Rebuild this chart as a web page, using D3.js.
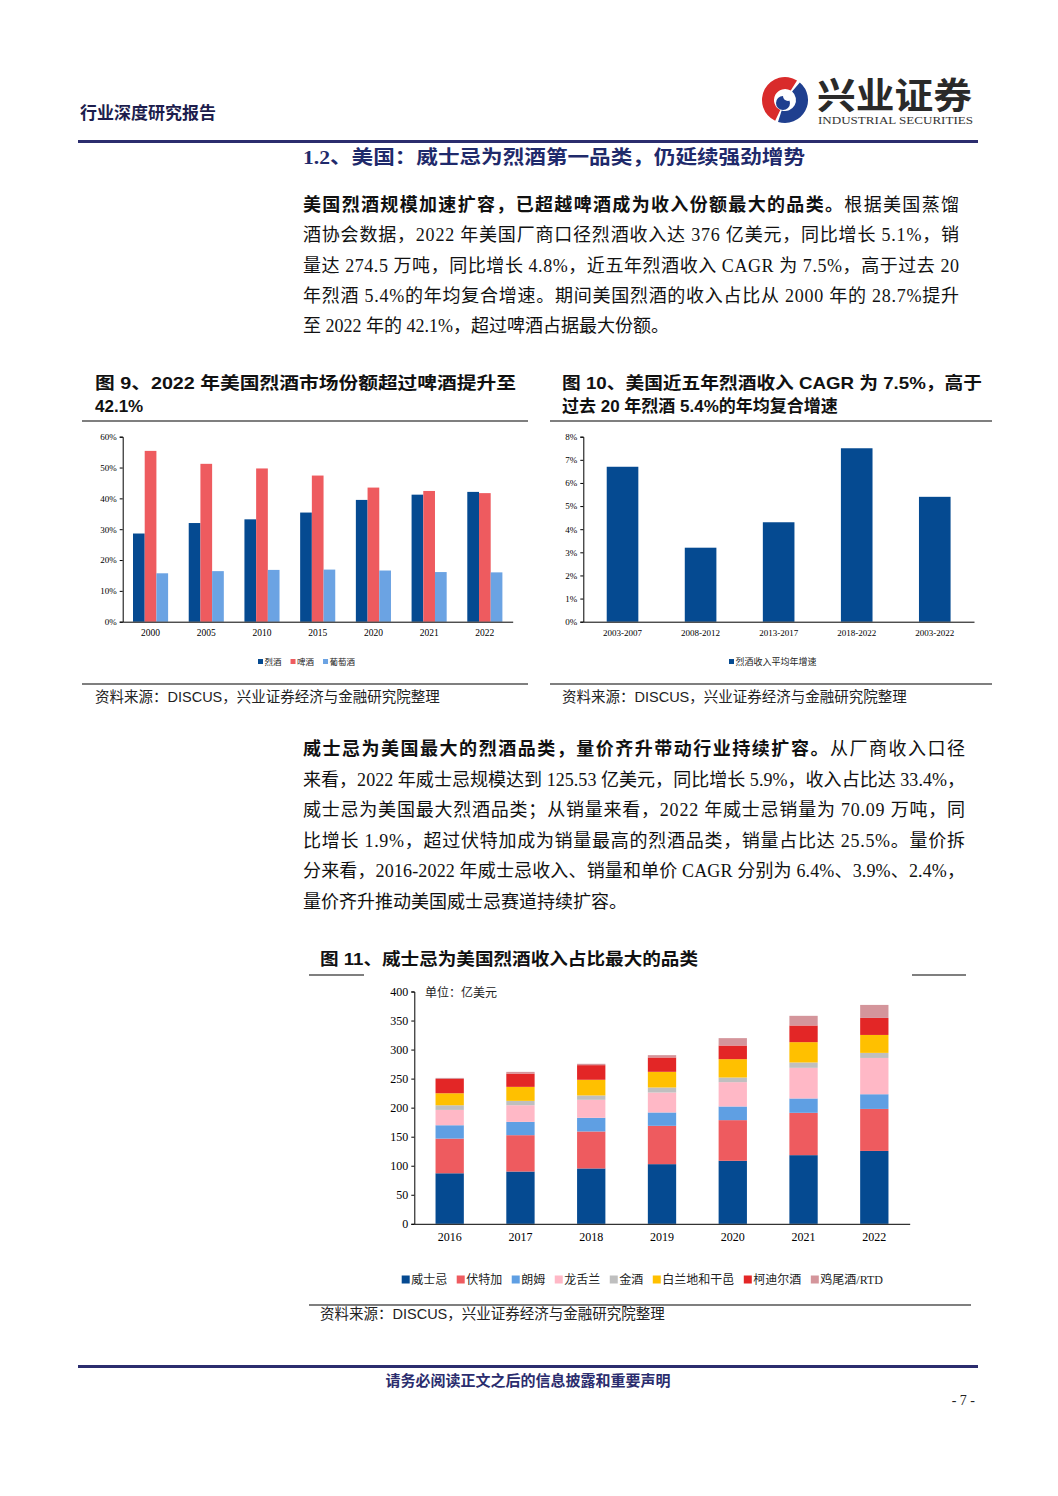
<!DOCTYPE html>
<html>
<head>
<meta charset="utf-8">
<script src="https://cdn.jsdelivr.net/npm/d3@7"></script>
<style>
  html, body { margin: 0; padding: 0; background: #fff; }
  svg { display: block; }
  text { font-family: "Liberation Serif", "Noto Sans CJK SC", serif; }
  .sans { font-family: "Liberation Sans", "Noto Sans CJK SC", sans-serif; }
  .axis path, .axis line { stroke: #000; }
</style>
</head>
<body>
<svg width="1058" height="1496"></svg>
<script>
// figuur 9: marktaandeel per drank
const years9 = ['2000', '2005', '2010', '2015', '2020', '2021', '2022'];
const spirits9 = [28.6, 32.0, 33.2, 35.4, 39.5, 41.2, 42.1];
const beer9 = [55.4, 51.2, 49.7, 47.4, 43.5, 42.4, 41.7];
const wine9 = [15.7, 16.4, 16.8, 16.9, 16.6, 16.1, 16.0];
const series9 = ['烈酒', '啤酒', '葡萄酒'];
const ticks9 = [0, 10, 20, 30, 40, 50, 60];

// figuur 10: gemiddelde groei
const periods10 = ['2003-2007', '2008-2012', '2013-2017', '2018-2022', '2003-2022'];
const cagr10 = [6.7, 3.2, 4.3, 7.5, 5.4];
const ticks10 = [0, 1, 2, 3, 4, 5, 6, 7, 8];

// figuur 11: omzet per categorie (亿美元)
const years11 = ['2016', '2017', '2018', '2019', '2020', '2021', '2022'];
const categories11 = ['威士忌', '伏特加', '朗姆', '龙舌兰', '金酒', '白兰地和干邑', '柯迪尔酒', '鸡尾酒/RTD'];
const whisky = [87.0, 90.0, 95.3, 102.7, 108.5, 118.2, 125.5];
const vodka = [59.7, 62.6, 63.7, 66.0, 70.0, 72.9, 72.3];
const rum = [23.0, 22.9, 23.5, 23.0, 23.5, 24.7, 25.3];
const tequila = [26.4, 28.7, 31.0, 34.4, 41.9, 52.8, 62.5];
const gin = [8.0, 7.5, 7.5, 8.6, 8.0, 9.2, 8.7];
const brandy = [20.7, 24.1, 27.0, 27.0, 31.6, 35.0, 30.9];
const cordials = [24.6, 22.9, 25.2, 24.7, 23.5, 28.7, 29.3];
const rtd = [1.8, 2.9, 2.3, 4.0, 12.7, 16.6, 22.4];
const ticks11 = [0, 50, 100, 150, 200, 250, 300, 350, 400];

(function () {
  'use strict';

  const svg = d3.select('svg');
  const navy = '#2b2d6e';
  const blue = '#054a91';
  const red = '#ee5b5f';
  const light = '#6ba3e3';

  // ---------- kop van de pagina ----------
  svg.append('text')
    .attr('x', 80).attr('y', 119)
    .attr('font-size', 17).attr('font-weight', 'bold')
    .attr('fill', '#1d1d4d')
    .attr('class', 'sans')
    .text('行业深度研究报告');

  // logo (benadering)
  const logo = svg.append('g').attr('transform', 'translate(785,100)');
  logo.append('path')
    .attr('d', d3.arc()({ innerRadius: 11, outerRadius: 23, startAngle: -2.7, endAngle: 0.55 }))
    .attr('fill', '#d92b2b');
  logo.append('path')
    .attr('d', d3.arc()({ innerRadius: 11, outerRadius: 23, startAngle: 0.7, endAngle: 3.45 }))
    .attr('fill', '#1f3f8f');
  logo.append('circle').attr('cx', -2).attr('cy', 3).attr('r', 7).attr('fill', '#1f3f8f');
  logo.append('circle').attr('cx', 3).attr('cy', -4).attr('r', 5).attr('fill', '#fff');

  svg.append('text')
    .attr('x', 817).attr('y', 109)
    .attr('font-size', 36).attr('font-weight', 'bold')
    .attr('fill', '#2a2a2a')
    .attr('textLength', 155).attr('lengthAdjust', 'spacingAndGlyphs')
    .text('兴业证券');
  svg.append('text')
    .attr('x', 818).attr('y', 124)
    .attr('font-size', 10.5)
    .attr('fill', '#333')
    .attr('textLength', 155).attr('lengthAdjust', 'spacingAndGlyphs')
    .text('INDUSTRIAL SECURITIES');

  svg.append('rect').attr('x', 78).attr('y', 140).attr('width', 900).attr('height', 3).attr('fill', navy);

  svg.append('text')
    .attr('x', 303).attr('y', 164)
    .attr('font-size', 19).attr('font-weight', 'bold')
    .attr('fill', '#1f2a6b')
    .attr('textLength', 502).attr('lengthAdjust', 'spacingAndGlyphs')
    .text('1.2、美国：威士忌为烈酒第一品类，仍延续强劲增势');

  // ---------- lopende tekst ----------
  function textLine(y, parts, width) {
    const t = svg.append('text')
      .attr('x', 303).attr('y', y)
      .attr('font-size', 18)
      .attr('fill', '#111');
    parts.forEach(p => {
      t.append('tspan')
        .attr('font-weight', p.b ? 'bold' : 'normal')
        .text(p.t);
    });
    if (width) t.attr('textLength', width).attr('lengthAdjust', 'spacing');
  }

  const p1 = [
    [{ t: '美国烈酒规模加速扩容，已超越啤酒成为收入份额最大的品类。', b: true }, { t: '根据美国蒸馏' }],
    [{ t: '酒协会数据，2022 年美国厂商口径烈酒收入达 376 亿美元，同比增长 5.1%，销' }],
    [{ t: '量达 274.5 万吨，同比增长 4.8%，近五年烈酒收入 CAGR 为 7.5%，高于过去 20' }],
    [{ t: '年烈酒 5.4%的年均复合增速。期间美国烈酒的收入占比从 2000 年的 28.7%提升' }],
    [{ t: '至 2022 年的 42.1%，超过啤酒占据最大份额。' }]
  ];
  p1.forEach((l, i) => textLine(211 + i * 30.3, l, i < p1.length - 1 ? 656 : null));

  const p2 = [
    [{ t: '威士忌为美国最大的烈酒品类，量价齐升带动行业持续扩容。', b: true }, { t: '从厂商收入口径' }],
    [{ t: '来看，2022 年威士忌规模达到 125.53 亿美元，同比增长 5.9%，收入占比达 33.4%，' }],
    [{ t: '威士忌为美国最大烈酒品类；从销量来看，2022 年威士忌销量为 70.09 万吨，同' }],
    [{ t: '比增长 1.9%，超过伏特加成为销量最高的烈酒品类，销量占比达 25.5%。量价拆' }],
    [{ t: '分来看，2016-2022 年威士忌收入、销量和单价 CAGR 分别为 6.4%、3.9%、2.4%，' }],
    [{ t: '量价齐升推动美国威士忌赛道持续扩容。' }]
  ];
  p2.forEach((l, i) => textLine(755 + i * 30.6, l, i < p2.length - 1 ? 662 : null));

  // ---------- titels en bronnen ----------
  function caption(x, y, s, w) {
    const t = svg.append('text')
      .attr('class', 'sans')
      .attr('x', x).attr('y', y)
      .attr('font-size', 17).attr('font-weight', 'bold')
      .attr('fill', '#111')
      .text(s);
    if (w) t.attr('textLength', w).attr('lengthAdjust', 'spacingAndGlyphs');
  }
  caption(95, 389, '图 9、2022 年美国烈酒市场份额超过啤酒提升至', 421);
  caption(95, 412, '42.1%');
  caption(562, 389, '图 10、美国近五年烈酒收入 CAGR 为 7.5%，高于', 420);
  caption(562, 412, '过去 20 年烈酒 5.4%的年均复合增速');
  caption(320, 965, '图 11、威士忌为美国烈酒收入占比最大的品类', 378);

  function source(x, y) {
    svg.append('text')
      .attr('class', 'sans')
      .attr('x', x).attr('y', y)
      .attr('font-size', 14.5)
      .attr('fill', '#222')
      .text('资料来源：DISCUS，兴业证券经济与金融研究院整理');
  }
  source(95, 702);
  source(562, 702);
  source(320, 1319);

  function rule(x1, x2, y) {
    svg.append('line')
      .attr('x1', x1).attr('x2', x2).attr('y1', y).attr('y2', y)
      .attr('stroke', '#000').attr('stroke-width', 1.2);
  }
  rule(82, 528, 421); rule(82, 528, 684);
  rule(550, 992, 421); rule(550, 992, 684);
  rule(309, 364, 975); rule(912, 966, 975); rule(309, 971, 1305);

  // ---------- figuur 9 ----------
  const x9 = d3.scaleBand().domain(years9).range([122.7, 512.7]).paddingInner(0.37).paddingOuter(0.185);
  const s9 = d3.scaleBand().domain(series9).range([0, x9.bandwidth()]);
  const y9 = d3.scaleLinear().domain([0, 60]).range([621.7, 436.7]);
  const colors9 = d3.scaleOrdinal(series9, [blue, red, light]);
  const rows9 = years9.map((y, i) => ({ year: y, vals: [spirits9[i], beer9[i], wine9[i]] }));

  const c9 = svg.append('g');
  c9.selectAll('g.grp')
    .data(rows9)
    .enter().append('g')
    .attr('transform', d => `translate(${x9(d.year)},0)`)
    .selectAll('rect')
    .data(d => d.vals.map((v, k) => ({ k: series9[k], v })))
    .enter().append('rect')
    .attr('x', d => s9(d.k))
    .attr('y', d => y9(d.v))
    .attr('width', s9.bandwidth())
    .attr('height', d => y9(0) - y9(d.v))
    .attr('fill', d => colors9(d.k));

  c9.append('g').attr('class', 'axis')
    .attr('transform', 'translate(122.7,0)')
    .call(d3.axisLeft(y9).tickValues(ticks9).tickSize(3).tickFormat(d => d + '%'))
    .call(g => g.selectAll('text').attr('font-size', 9).attr('font-family', 'Liberation Serif'));
  c9.append('g').attr('class', 'axis')
    .attr('transform', 'translate(0,621.7)')
    .call(d3.axisBottom(x9).tickSize(0).tickSizeOuter(0).tickPadding(8))
    .call(g => g.selectAll('text').attr('font-size', 9.5).attr('font-family', 'Liberation Serif'));

  function legend(g, items, colorOf, x, y, fs, sq, gap) {
    let cx = x;
    items.forEach(it => {
      g.append('rect').attr('x', cx).attr('y', y - sq / 2 - 0.5).attr('width', sq).attr('height', sq).attr('fill', colorOf(it));
      const t = g.append('text')
        .attr('x', cx + sq + 1.5).attr('y', y + fs * 0.36)
        .attr('font-size', fs).attr('fill', '#222')
        .text(it);
      cx += sq + 1.5 + t.node().getComputedTextLength() + gap;
    });
  }
  legend(c9, series9, colors9, 258, 662, 8.5, 5, 9);

  // ---------- figuur 10 ----------
  const x10 = d3.scaleBand().domain(periods10).range([583.3, 974]).paddingInner(0.595).paddingOuter(0.3);
  const y10 = d3.scaleLinear().domain([0, 8]).range([621.7, 436.7]);
  const c10 = svg.append('g');
  c10.selectAll('rect')
    .data(periods10.map((p, i) => ({ p, v: cagr10[i] })))
    .enter().append('rect')
    .attr('x', d => x10(d.p))
    .attr('y', d => y10(d.v))
    .attr('width', x10.bandwidth())
    .attr('height', d => y10(0) - y10(d.v))
    .attr('fill', blue);
  c10.append('g').attr('class', 'axis')
    .attr('transform', 'translate(583.3,0)')
    .call(d3.axisLeft(y10).tickValues(ticks10).tickSize(3).tickFormat(d => d + '%'))
    .call(g => g.selectAll('text').attr('font-size', 9).attr('font-family', 'Liberation Serif'));
  c10.append('g').attr('class', 'axis')
    .attr('transform', 'translate(0,621.7)')
    .call(d3.axisBottom(x10).tickSize(0).tickSizeOuter(0).tickPadding(8))
    .call(g => g.selectAll('text').attr('font-size', 9).attr('font-family', 'Liberation Serif'));
  legend(c10, ['烈酒收入平均年增速'], () => blue, 729, 662, 9, 5, 9);

  // ---------- figuur 11 ----------
  const seriesVals11 = [whisky, vodka, rum, tequila, gin, brandy, cordials, rtd];
  const colors11 = d3.scaleOrdinal(categories11,
    [blue, '#ee5b5f', '#5f9fe3', '#ffb8c6', '#bfbfbf', '#ffc000', '#e32626', '#d4959b']);
  const table11 = years11.map((y, i) => {
    const row = { year: y };
    categories11.forEach((c, k) => { row[c] = seriesVals11[k][i]; });
    return row;
  });
  const stack11 = d3.stack().keys(categories11)(table11);

  const x11 = d3.scaleBand().domain(years11).range([414.3, 909.7]).paddingInner(0.6).paddingOuter(0.3);
  const y11 = d3.scaleLinear().domain([0, 400]).range([1223.8, 991.5]);
  const c11 = svg.append('g');
  c11.selectAll('g.layer')
    .data(stack11)
    .enter().append('g')
    .attr('fill', d => colors11(d.key))
    .selectAll('rect')
    .data(d => d)
    .enter().append('rect')
    .attr('x', d => x11(d.data.year))
    .attr('y', d => y11(d[1]))
    .attr('width', x11.bandwidth())
    .attr('height', d => y11(d[0]) - y11(d[1]));

  c11.append('g').attr('class', 'axis')
    .attr('transform', 'translate(414.3,0)')
    .call(d3.axisLeft(y11).tickValues(ticks11).tickSize(3))
    .call(g => g.selectAll('text').attr('font-size', 12).attr('font-family', 'Liberation Serif'));
  c11.append('g').attr('class', 'axis')
    .attr('transform', 'translate(0,1223.8)')
    .call(d3.axisBottom(x11).tickSize(0).tickSizeOuter(0).tickPadding(9))
    .call(g => g.selectAll('text').attr('font-size', 12).attr('font-family', 'Liberation Serif'));

  c11.append('text')
    .attr('x', 425).attr('y', 997)
    .attr('font-size', 12).attr('fill', '#222')
    .text('单位：亿美元');

  legend(c11, categories11, colors11, 401.7, 1280, 12, 8, 9.5);

  // ---------- voettekst ----------
  svg.append('rect').attr('x', 78).attr('y', 1365).attr('width', 900).attr('height', 3).attr('fill', navy);
  svg.append('text')
    .attr('class', 'sans')
    .attr('x', 528).attr('y', 1386)
    .attr('text-anchor', 'middle')
    .attr('font-size', 15).attr('font-weight', 'bold')
    .attr('fill', navy)
    .text('请务必阅读正文之后的信息披露和重要声明');
  svg.append('text')
    .attr('x', 975).attr('y', 1405)
    .attr('text-anchor', 'end')
    .attr('font-size', 14).attr('fill', '#222')
    .text('- 7 -');
}());
</script>
</body>
</html>
